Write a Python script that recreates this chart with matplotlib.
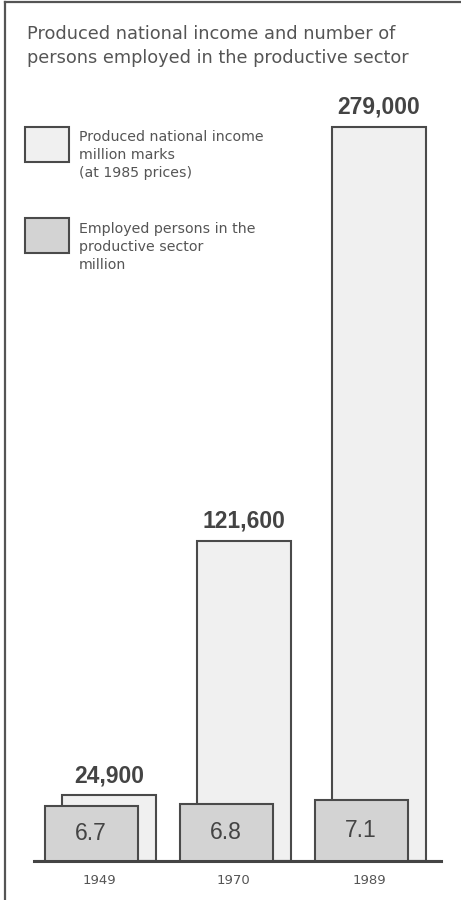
import numpy as np
import matplotlib.pyplot as plt

years = ['1949', '1970', '1989']
income = [24900, 121600, 279000]        # million marks, 1985 prices
employed = [6.7, 6.8, 7.1]              # million persons
income_labels = ['24,900', '121,600', '279,000']
employed_labels = ['6.7', '6.8', '7.1']

txt = '#555555'
edge = '#4a4a4a'

fig = plt.figure(figsize=(4.61, 9.0), dpi=100)
fig.patch.set_facecolor('white')

# frame: top and left rule only
fig.add_artist(plt.Line2D([5/461, 1], [1 - 2/900, 1 - 2/900], color='#555555', lw=1.6))
fig.add_artist(plt.Line2D([5/461, 5/461], [0, 1 - 2/900], color='#555555', lw=1.6))

fig.text(27/461, 1 - 39/900, 'Produced national income and number of',
         fontsize=12.8, color=txt, va='baseline')
fig.text(27/461, 1 - 63/900, 'persons employed in the productive sector',
         fontsize=12.8, color=txt, va='baseline')

# axes area in pixels: x 34..441, y 100..861
ax = fig.add_axes([34/461, 39/900, 407/461, 761/900])
x = np.arange(len(years))
ax.set_xlim(-0.481, 2.534)
ax.set_ylim(0, 289270)
ax.bar(x + 0.075, income, width=0.69, color='#f0f0f0', edgecolor=edge, linewidth=1.5, zorder=2)
for xi, v, lab in zip(x, income, income_labels):
    ax.annotate(lab, (xi + 0.075, v), xytext=(0, 6), textcoords='offset points',
                ha='center', va='bottom', fontsize=16.5, fontweight='bold',
                color='#444444', family='Liberation Sans')

ax2 = ax.twinx()
ax2.set_ylim(3.03, 53.76)
ax2.bar(x - 0.057, employed, width=0.69, color='#d3d3d3', edgecolor=edge, linewidth=1.5, zorder=3)
for xi, v, lab in zip(x, employed, employed_labels):
    ax2.text(xi - 0.057, 3.03 + (v - 3.03) / 2, lab, ha='center', va='center',
             fontsize=16.5, color='#444444', family='Liberation Sans')

for a in (ax, ax2):
    for s in ('top', 'right', 'left'):
        a.spines[s].set_visible(False)
    a.set_yticks([])
ax2.spines['bottom'].set_visible(False)
ax.spines['bottom'].set_linewidth(2.2)
ax.spines['bottom'].set_color('#444444')
ax.spines['bottom'].set_zorder(5)
ax2.axhline(3.03, color='#444444', lw=2.2, zorder=5)
ax.set_xticks(x)
ax.set_xticklabels(years, fontsize=9.5, color=txt)
ax.tick_params(axis='x', length=0, pad=9)

# legend boxes
lax = fig.add_axes([0, 0, 1, 1])
lax.set_xlim(0, 461)
lax.set_ylim(900, 0)
lax.axis('off')
lax.add_patch(plt.Rectangle((25, 127), 44, 35, facecolor='#f0f0f0', edgecolor=edge, lw=1.5))
lax.add_patch(plt.Rectangle((25, 218), 44, 35, facecolor='#d3d3d3', edgecolor=edge, lw=1.5))
for yy, s in zip([137, 155, 173], ['Produced national income', 'million marks', '(at 1985 prices)']):
    lax.text(79, yy, s, fontsize=10.2, color=txt, va='center')
for yy, s in zip([229, 247, 265], ['Employed persons in the', 'productive sector', 'million']):
    lax.text(79, yy, s, fontsize=10.2, color=txt, va='center')

fig.savefig('out.png', dpi=100)
